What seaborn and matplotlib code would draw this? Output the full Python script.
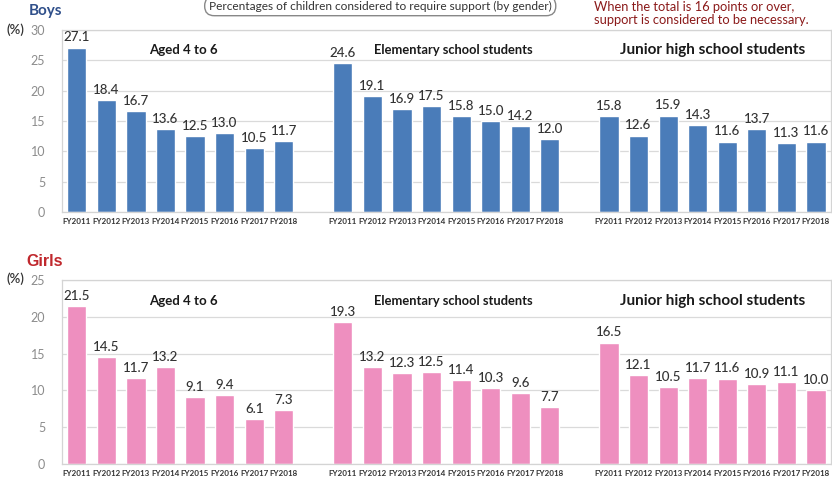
import pandas as pd
import matplotlib.pyplot as plt
import seaborn as sns

# values
years = ['FY2011', 'FY2012', 'FY2013', 'FY2014', 'FY2015', 'FY2016', 'FY2017', 'FY2018']
groups = ['Aged 4 to 6', 'Elementary school students', 'Junior high school students']

boys_age4_6 = [27.1, 18.4, 16.7, 13.6, 12.5, 13.0, 10.5, 11.7]
boys_elementary = [24.6, 19.1, 16.9, 17.5, 15.8, 15.0, 14.2, 12.0]
boys_junior = [15.8, 12.6, 15.9, 14.3, 11.6, 13.7, 11.3, 11.6]

girls_age4_6 = [21.5, 14.5, 11.7, 13.2, 9.1, 9.4, 6.1, 7.3]
girls_elementary = [19.3, 13.2, 12.3, 12.5, 11.4, 10.3, 9.6, 7.7]
girls_junior = [16.5, 12.1, 10.5, 11.7, 11.6, 10.9, 11.1, 10.0]

sns.set_style('white')
plt.rcParams['font.family'] = ['Lato', 'DejaVu Sans']


def make_frame(series):
    rows = []
    for g, vals in zip(groups, series):
        for y, v in zip(years, vals):
            rows.append({'slot': g + '|' + y, 'value': v})
    return pd.DataFrame(rows)


# category order with one empty slot between the groups
order = []
ticklabels = []
for k, g in enumerate(groups):
    if k > 0:
        order.append('gap%d' % k)
        ticklabels.append('')
    for y in years:
        order.append(g + '|' + y)
        ticklabels.append(y)

fig = plt.figure(figsize=(8.32, 4.83), dpi=100)
ax_b = fig.add_axes([0.0745, 0.561, 0.924, 0.377])
ax_g = fig.add_axes([0.0745, 0.0393, 0.924, 0.381])

panels = [
    (ax_b, make_frame([boys_age4_6, boys_elementary, boys_junior]), '#4a7cb9', 30, 0.89),
    (ax_g, make_frame([girls_age4_6, girls_elementary, girls_junior]), '#ee8fbf', 25, 0.885),
]

title_x = [3.62, 12.74, 21.5]
title_size = [9.5, 9.3, 11]

for ax, df, col, ymax, ty in panels:
    sns.barplot(data=df, x='slot', y='value', order=order, color=col,
                saturation=1, width=0.65, ax=ax, zorder=2)
    ax.set_xlim(-0.5, len(order) - 0.5)
    ax.set_ylim(0, ymax)
    ax.set_yticks(range(0, ymax + 1, 5))
    ax.set_xticks(range(len(order)))
    ax.set_xticklabels(ticklabels, fontsize=5.8, color='#333333', fontweight='bold')
    ax.set_xlabel('')
    ax.set_ylabel('')
    ax.tick_params(axis='x', length=0, pad=4)
    ax.tick_params(axis='y', length=0, pad=12, labelsize=9, labelcolor='#8c8c8c')
    ax.grid(axis='y', color='#dadada', linewidth=0.9, zorder=0)
    for s in ax.spines.values():
        s.set_color('#d4d4d4')
        s.set_linewidth(0.9)
    for c in ax.containers:
        ax.bar_label(c, fmt='%.1f', padding=3, fontsize=9.6, color='#333333',
                     fontweight='medium')
    for gx, gname, gs in zip(title_x, groups, title_size):
        ax.text(gx, ty, gname, transform=ax.get_xaxis_transform(), ha='center',
                va='center', fontsize=gs, fontweight='bold', color='#1a1a1a')

# "(%)" unit labels next to the top tick
fig.text(0.008, 1 - 30 / 483, '(%)', fontsize=9.5, color='#333333', va='center',
         fontweight='semibold')
fig.text(0.008, 1 - 279 / 483, '(%)', fontsize=9.5, color='#333333', va='center',
         fontweight='semibold')

fig.text(0.034, 1 - 11 / 483, 'Boys', fontsize=11, fontweight='bold',
         color='#2f4f8a', va='center')
fig.text(0.032, 1 - 261 / 483, 'Girls', fontsize=11.5, fontweight='bold',
         color='#c0282d', va='center', family='Liberation Sans')

fig.text(0.457, 1 - 6 / 483,
         'Percentages of children considered to require support (by gender)',
         fontsize=8.6, color='#333333', ha='center', va='center',
         bbox=dict(boxstyle='round,pad=0.35,rounding_size=0.8', fc='white',
                   ec='#888888', lw=1))

fig.text(0.714, 1 - 7 / 483, 'When the total is 16 points or over,',
         fontsize=9.3, color='#8b1a1a', ha='left', va='center')
fig.text(0.714, 1 - 20 / 483, 'support is considered to be necessary.',
         fontsize=9.3, color='#8b1a1a', ha='left', va='center')

plt.savefig('out.png', dpi=100)
